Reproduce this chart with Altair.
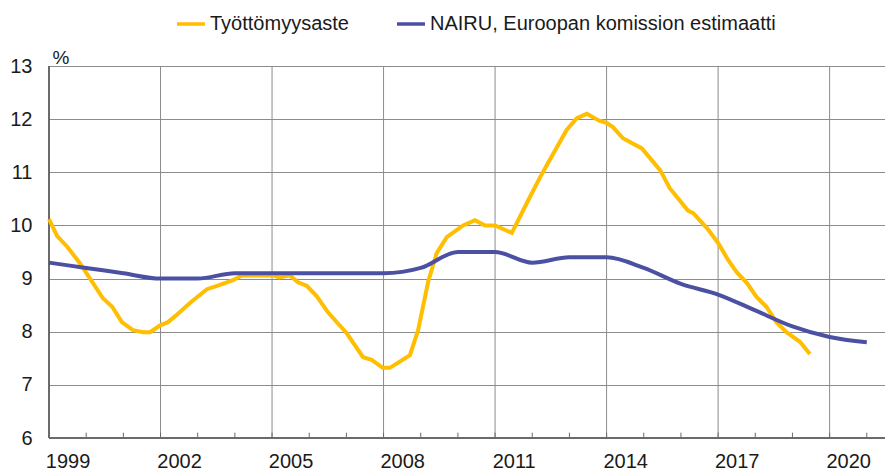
import altair as alt
import pandas as pd

# Unemployment rate (trend)
unemp_years = [1999.0, 1999.22, 1999.49, 1999.83, 2000.18, 2000.45, 2000.7, 2000.96, 2001.26, 2001.53,
               2001.72, 2001.99, 2002.2, 2002.44, 2002.79, 2003.25, 2003.6, 2003.95, 2004.19, 2004.68,
               2005.03, 2005.2, 2005.48, 2005.7, 2005.94, 2006.2, 2006.5, 2006.78, 2007.0, 2007.45,
               2007.68, 2007.98, 2008.17, 2008.71, 2008.93, 2009.2, 2009.43, 2009.7, 2010.14, 2010.46,
               2010.73, 2011.0, 2011.45, 2011.94, 2012.2, 2012.42, 2012.93, 2013.2, 2013.47, 2013.8,
               2014.0, 2014.17, 2014.44, 2014.95, 2015.44, 2015.7, 2016.19, 2016.33, 2016.7, 2017.0,
               2017.27, 2017.5, 2017.77, 2018.04, 2018.3, 2018.57, 2018.84, 2019.2, 2019.47]
unemp_values = [10.12, 9.8, 9.6, 9.29, 8.92, 8.63, 8.47, 8.18, 8.03, 7.99,
                7.99, 8.12, 8.18, 8.32, 8.54, 8.8, 8.88, 8.97, 9.06, 9.06,
                9.06, 9.02, 9.06, 8.93, 8.86, 8.67, 8.37, 8.15, 7.98, 7.52,
                7.47, 7.32, 7.32, 7.56, 8.03, 8.94, 9.48, 9.78, 10.0, 10.1,
                10.0, 10.0, 9.86, 10.54, 10.89, 11.17, 11.8, 12.02, 12.1, 11.97,
                11.93, 11.85, 11.64, 11.45, 11.04, 10.7, 10.28, 10.23, 9.95, 9.67,
                9.35, 9.12, 8.92, 8.65, 8.47, 8.18, 7.99, 7.81, 7.58]

# NAIRU, European Commission estimate (annual)
nairu_years = list(range(1999, 2022))
nairu_values = [9.3, 9.2, 9.1, 9.0, 9.0, 9.1, 9.1, 9.1, 9.1, 9.1, 9.2, 9.5, 9.5, 9.3, 9.4, 9.4,
                9.2, 8.9, 8.7, 8.4, 8.1, 7.9, 7.8]

series_names = ["Työttömyysaste", "NAIRU, Euroopan komission estimaatti"]
series_colors = ["#FFBE00", "#4B50A3"]

label_years = [1999.5, 2002.5, 2005.5, 2008.5, 2011.5, 2014.5, 2017.5, 2020.5]
grid_years = [2002, 2005, 2008, 2011, 2014, 2017, 2020]
tick_years = list(range(2000, 2022))
y_ticks = [6, 7, 8, 9, 10, 11, 12, 13]
x_start = [1999]
y_base = [6]

FONT = "Liberation Sans"
AXIS_COLOR = "#6a6a6a"
GRID_COLOR = "#8c8c8c"

unemp_df = pd.DataFrame({"year": unemp_years, "value": unemp_values, "series": series_names[0]})
nairu_df = pd.DataFrame({"year": nairu_years, "value": nairu_values, "series": series_names[1]})

x_scale = alt.Scale(domain=[1999, 2021.49], nice=False, zero=False)
y_scale = alt.Scale(domain=[6, 13], nice=False, zero=False)
color_scale = alt.Scale(domain=series_names, range=series_colors)

legend = alt.Legend(
    title=None, orient="none", legendX=126, legendY=-58, direction="horizontal",
    symbolType="stroke", symbolSize=784, symbolStrokeWidth=3.5,
    labelFont=FONT, labelFontSize=20, labelColor="#1a1a1a", labelOffset=3,
    columnPadding=41, padding=0, labelLimit=500,
)

unemp_line = alt.Chart(unemp_df).mark_line(strokeWidth=4).encode(
    x=alt.X("year:Q", scale=x_scale,
            axis=alt.Axis(values=label_years, labelExpr="'' + floor(datum.value)",
                          grid=False, ticks=False, labelPadding=13, labelFont=FONT,
                          labelFontSize=20, labelColor="#1a1a1a", domain=False,
                          title=None, labelFlush=False)),
    y=alt.Y("value:Q", scale=y_scale,
            axis=alt.Axis(values=y_ticks, format="d", grid=True, gridColor=GRID_COLOR,
                          gridWidth=1, ticks=False, labelPadding=17, labelFont=FONT,
                          labelFontSize=20, labelColor="#1a1a1a", domain=False,
                          title="%", titleAngle=0, titleX=3, titleY=-3, titleAlign="left",
                          titleBaseline="alphabetic", titleFont=FONT, titleFontSize=19,
                          titleFontWeight="normal", titleColor="#1a1a1a", labelFlush=False)),
    color=alt.Color("series:N", scale=color_scale, legend=legend),
)

grid_layer = alt.Chart(pd.DataFrame({"year": grid_years})).mark_rule(
    color=GRID_COLOR, strokeWidth=1
).encode(x=alt.X("year:Q", scale=x_scale))

tick_layer = alt.Chart(pd.DataFrame({"year": tick_years})).transform_calculate(
    a="6", b="6.1"
).mark_rule(color=AXIS_COLOR, strokeWidth=1).encode(
    x=alt.X("year:Q", scale=x_scale),
    y=alt.Y("a:Q", scale=y_scale),
    y2="b:Q",
)

left_axis_line = alt.Chart(pd.DataFrame({"year": x_start})).mark_rule(
    color=AXIS_COLOR, strokeWidth=2
).encode(x=alt.X("year:Q", scale=x_scale))

bottom_axis_line = alt.Chart(pd.DataFrame({"v": y_base})).mark_rule(
    color=AXIS_COLOR, strokeWidth=2
).encode(y=alt.Y("v:Q", scale=y_scale))

nairu_line = alt.Chart(nairu_df).mark_line(strokeWidth=4, interpolate="monotone").encode(
    x=alt.X("year:Q", scale=x_scale),
    y=alt.Y("value:Q", scale=y_scale),
    color=alt.Color("series:N", scale=color_scale, legend=legend),
)

chart = alt.layer(grid_layer, tick_layer, left_axis_line, bottom_axis_line,
                  unemp_line, nairu_line).properties(
    width=836, height=372,
    autosize=alt.AutoSizeParams(type="none"),
    padding={"left": 41, "top": 58, "right": 0, "bottom": 35},
).configure_view(stroke=None).configure(background="white")

chart.save("out.html", embed_options={"renderer": "svg", "actions": False})
